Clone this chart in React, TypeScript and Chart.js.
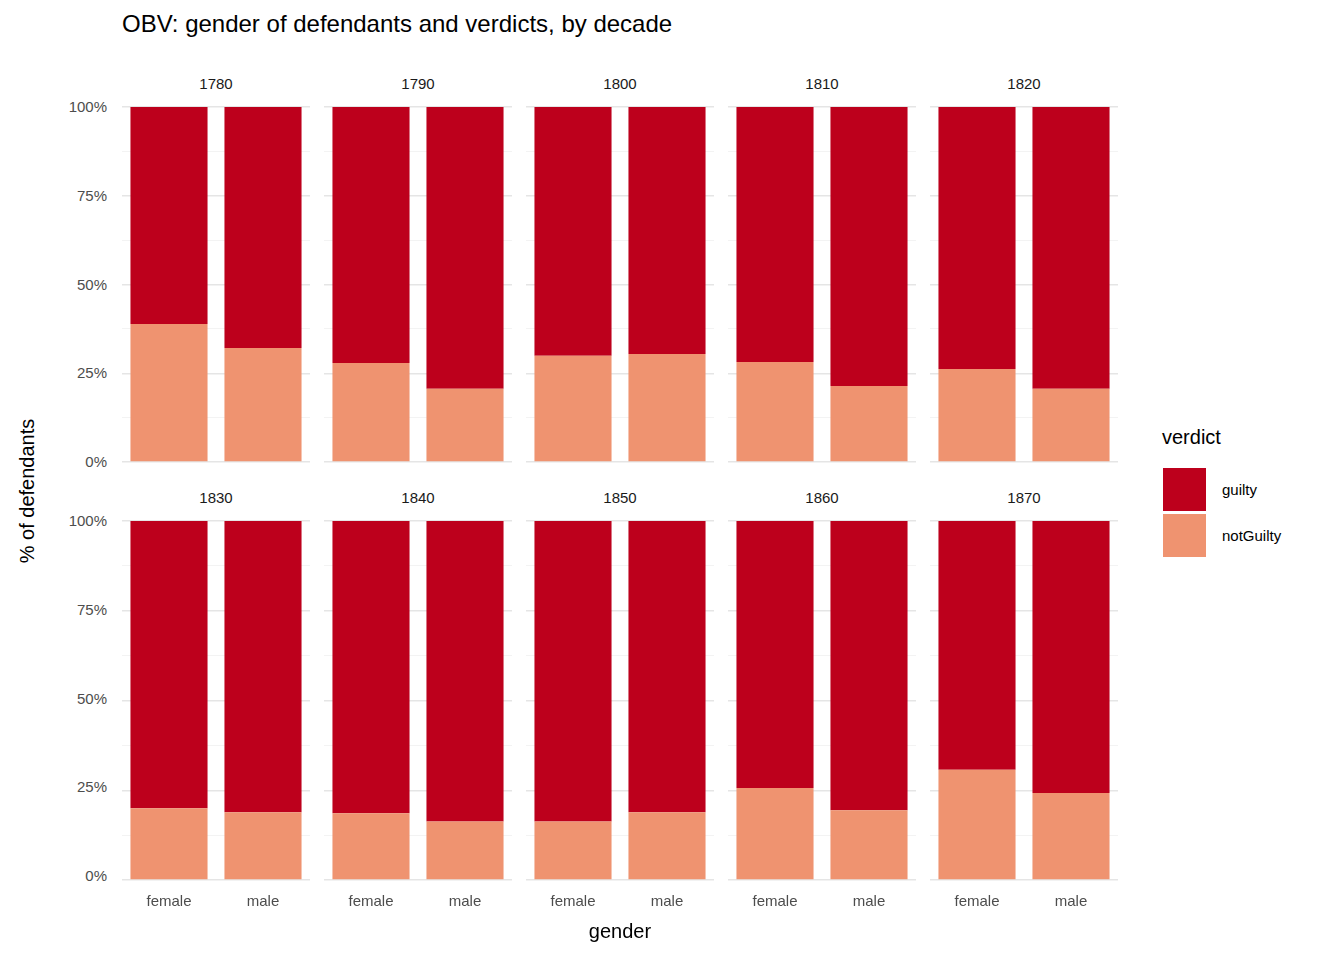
import React, { useEffect, useRef } from "react";
import { Chart, registerables } from "chart.js";
Chart.register(...registerables);

const decades = ["1780", "1790", "1800", "1810", "1820", "1830", "1840", "1850", "1860", "1870"];
const genders = ["female", "male"];
const notGuiltyFemale = [38.9, 27.9, 29.9, 28.2, 26.2, 20.0, 18.6, 16.3, 25.6, 30.7];
const notGuiltyMale = [32.1, 20.6, 30.4, 21.4, 20.6, 18.9, 16.3, 18.9, 19.4, 24.2];
const yTicks = [0, 25, 50, 75, 100];

const FONT = "'Liberation Sans', Arial, sans-serif";
const GUILTY = "#BD001C";
const NOTGUILTY = "#EF9370";

const PANEL_W = 188;
const PANEL_H = 355;
const LEFT0 = 122;
const STEP = 202;
const TOPS = [107, 521];
const XAXH = 40;

function Panel({ idx }: { idx: number }) {
  const ref = useRef<HTMLCanvasElement>(null);
  const col = idx % 5;
  const row = Math.floor(idx / 5);
  const xh = row === 1 ? XAXH : 0;
  const left = LEFT0 + col * STEP;
  const top = TOPS[row] - 4;
  const w = PANEL_W;
  const h = PANEL_H + xh + 8;
  useEffect(() => {
    const ng = [notGuiltyFemale[idx], notGuiltyMale[idx]];
    const chart = new Chart(ref.current!, {
      type: "bar",
      data: {
        labels: genders,
        datasets: [
          { label: "notGuilty", data: ng, backgroundColor: NOTGUILTY, barPercentage: 0.82, categoryPercentage: 1 },
          { label: "guilty", data: ng.map((v) => 100 - v), backgroundColor: GUILTY, barPercentage: 0.82, categoryPercentage: 1 },
        ],
      },
      options: {
        animation: false,
        responsive: false,
        layout: { padding: { top: 4, bottom: xh ? 0 : 4, left: 0, right: 0 } },
        plugins: { legend: { display: false }, tooltip: { enabled: false } },
        scales: {
          x: {
            stacked: true,
            offset: true,
            display: true,
            border: { display: false },
            grid: { display: false, drawTicks: false },
            afterFit: (s: any) => { s.height = xh; },
            ticks: {
              display: row === 1,
              padding: 13,
              color: "#4d4d4d",
              maxRotation: 0,
              font: { family: FONT, size: 15 },
            },
          },
          y: {
            stacked: true,
            min: 0,
            max: 100,
            border: { display: false },
            afterBuildTicks: (s: any) => {
              const t = [];
              for (let v = 0; v <= 100; v += 12.5) t.push({ value: v });
              s.ticks = t;
            },
            afterFit: (s: any) => { s.width = 0; },
            grid: {
              drawTicks: false,
              color: (c: any) => (c.tick && c.tick.value % 25 === 0 ? "#e5e5e5" : "#f0f0f0"),
              lineWidth: (c: any) => (c.tick && c.tick.value % 25 === 0 ? 1.5 : 0.8),
            },
            ticks: { display: false },
          },
        },
      },
    } as any);
    return () => chart.destroy();
  }, [idx]);
  return (
    <>
      <div style={{ position: "absolute", left, width: PANEL_W, top: TOPS[row] - 32, textAlign: "center", fontSize: 15, color: "#1a1a1a", fontFamily: FONT }}>
        {decades[idx]}
      </div>
      <canvas ref={ref} width={w} height={h} style={{ position: "absolute", left, top, width: w, height: h }} />
    </>
  );
}

export default function App() {
  useEffect(() => { document.body.style.margin = "0"; }, []);
  return (
    <div style={{ position: "absolute", left: 0, top: 0, width: 1344, height: 960, background: "#fff", fontFamily: FONT, overflow: "hidden" }}>
      <div style={{ position: "absolute", left: 122, top: 10, fontSize: 24, color: "#000" }}>
        OBV: gender of defendants and verdicts, by decade
      </div>
      {decades.map((_, i) => <Panel key={i} idx={i} />)}
      {TOPS.map((t, r) =>
        yTicks.map((v) => (
          <div key={r + "-" + v} style={{ position: "absolute", right: 1344 - 107, top: t + PANEL_H * (1 - v / 100) - 9, fontSize: 15, color: "#4d4d4d", textAlign: "right", whiteSpace: "nowrap" }}>
            {v + "%"}
          </div>
        ))
      )}
      <div style={{ position: "absolute", left: 27, top: 491, transform: "translate(-50%,-50%) rotate(-90deg)", fontSize: 20, whiteSpace: "nowrap", color: "#000" }}>
        % of defendants
      </div>
      <div style={{ position: "absolute", left: 620, top: 931, transform: "translate(-50%,-50%)", fontSize: 20, color: "#000" }}>gender</div>
      <div style={{ position: "absolute", left: 1162, top: 426, fontSize: 20, color: "#000" }}>verdict</div>
      <div style={{ position: "absolute", left: 1163, top: 468, width: 43, height: 43, background: GUILTY }} />
      <div style={{ position: "absolute", left: 1163, top: 514, width: 43, height: 43, background: NOTGUILTY }} />
      <div style={{ position: "absolute", left: 1222, top: 481, fontSize: 15, color: "#000" }}>guilty</div>
      <div style={{ position: "absolute", left: 1222, top: 527, fontSize: 15, color: "#000" }}>notGuilty</div>
    </div>
  );
}
